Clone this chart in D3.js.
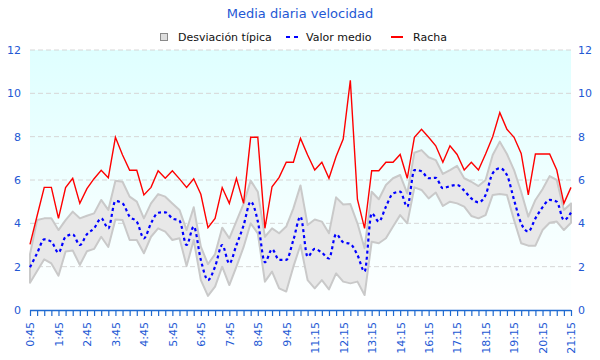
<!DOCTYPE html>
<html>
<head>
<meta charset="utf-8">
<script src="https://cdn.jsdelivr.net/npm/d3@7"></script>
<style>
  html, body { margin: 0; padding: 0; background: #ffffff; }
  svg { display: block; font-family: "DejaVu Sans", sans-serif; }
</style>
</head>
<body>
<svg id="chart" width="600" height="360"></svg>
<script>
const categories = [
  "0:45","1:00","1:15","1:30","1:45","2:00","2:15","2:30","2:45","3:00","3:15","3:30","3:45",
  "4:00","4:15","4:30","4:45","5:00","5:15","5:30","5:45","6:00","6:15","6:30","6:45",
  "7:00","7:15","7:30","7:45","8:00","8:15","8:30","8:45","9:00","9:15","9:30","9:45",
  "10:00","10:30","10:45","11:15","11:30","11:45","12:00","12:15","12:30","12:45","13:00","13:15",
  "13:30","13:45","14:00","14:15","14:30","15:00","15:30","16:15","16:30","16:45","17:00","17:15",
  "17:30","17:45","18:00","18:15","18:30","18:45","19:00","19:15","19:30","19:45","20:00","20:15",
  "20:30","20:45","21:00","21:15"
];
const racha = [
  3.03,4.35,5.66,5.66,4.23,5.65,6.08,4.92,5.6,6.06,6.45,6.1,7.97,
  7.15,6.45,6.45,5.31,5.66,6.43,6.08,6.43,6.05,5.66,6.06,5.34,
  3.8,4.23,5.65,4.92,6.08,4.92,7.97,7.97,3.77,5.69,6.12,6.82,
  6.82,7.92,7.15,6.46,6.82,6.08,7.08,7.89,10.6,5.1,3.77,6.43,
  6.43,6.82,6.82,7.18,6.08,7.97,8.34,7.97,7.58,6.82,7.58,7.18,
  6.46,6.82,6.46,7.2,8.0,9.11,8.34,7.97,7.23,5.31,7.2,7.2,
  7.2,6.46,4.92,5.66
];
const media = [
  1.97,2.62,3.26,3.15,2.65,3.38,3.49,3.0,3.5,3.77,4.23,3.77,5.03,
  4.92,4.31,4.08,3.31,4.0,4.49,4.51,4.23,4.12,3.0,3.85,2.31,
  1.38,2.0,3.0,2.15,3.0,3.9,5.0,4.1,2.2,2.8,2.31,2.31,
  3.23,4.31,2.46,2.82,2.65,2.38,3.5,3.13,3.05,2.54,1.77,4.46,
  4.08,4.77,5.38,5.46,4.77,6.46,6.4,6.08,6.1,5.62,5.72,5.77,
  5.51,5.15,4.97,5.31,6.31,6.54,6.23,5.08,4.0,3.62,4.23,4.74,
  5.08,5.0,4.15,4.49
];
const bandHigh = [
  2.57,4.15,4.23,4.23,3.69,4.15,4.54,4.23,4.35,4.46,5.08,4.62,5.97,
  5.92,5.23,5.0,4.23,4.92,5.35,5.23,4.92,4.62,3.69,4.74,2.92,
  2.12,2.58,3.8,3.31,4.1,4.9,5.97,5.46,3.38,3.77,3.54,3.85,
  4.69,5.75,3.92,4.18,4.08,3.54,5.2,4.87,4.89,4.0,2.85,5.46,
  5.11,5.77,6.08,6.23,5.38,7.26,7.38,7.05,6.92,6.28,6.46,6.65,
  6.08,5.92,5.72,6.0,7.15,7.77,7.2,6.46,5.46,4.31,5.08,5.57,
  6.18,6.0,4.62,4.92
];
const bandLow = [
  1.26,1.8,2.34,2.15,1.58,2.7,2.75,2.08,2.71,2.82,3.38,2.91,4.18,
  4.15,3.23,3.23,2.62,3.38,3.77,3.62,3.23,3.31,2.03,3.23,1.38,
  0.65,1.08,2.0,1.15,2.0,2.9,4.0,3.54,1.31,1.77,1.0,0.85,
  2.0,3.0,1.38,1.0,1.38,0.95,1.69,1.31,1.23,1.31,0.69,3.15,
  3.08,3.31,3.85,4.38,4.0,5.66,5.54,5.15,5.42,4.8,5.0,4.92,
  4.77,4.34,4.23,4.38,5.31,5.35,5.31,4.15,3.08,2.97,2.97,3.69,
  4.03,4.08,3.69,4.03
];
const yTicks = [0, 2, 4, 6, 8, 10, 12];
const titleText = "Media diaria velocidad";
const legendLabels = ["Desviación típica", "Valor medio", "Racha"];

const textBlue = "#2358d4";
const axisBlue = "#1f6ad0";

const svg = d3.select("#chart");
const mL = 30, mR = 571, mT = 50, mB = 310;

const x = d3.scalePoint().domain(categories).range([mL, mR]);
const y = d3.scaleLinear().domain([0, 12]).range([mB, mT]);

const rows = categories.map((c, i) => ({
  c, r: racha[i], m: media[i], hi: bandHigh[i], lo: bandLow[i]
}));

// background gradient
const defs = svg.append("defs");
const grad = defs.append("linearGradient").attr("id", "bg")
  .attr("x1", 0).attr("y1", 0).attr("x2", 0).attr("y2", 1);
grad.append("stop").attr("offset", "0%").attr("stop-color", "#dfffff");
grad.append("stop").attr("offset", "100%").attr("stop-color", "#ffffff");

svg.append("rect")
  .attr("x", mL).attr("y", mT)
  .attr("width", mR - mL).attr("height", mB - mT)
  .attr("fill", "url(#bg)");

// grid
svg.append("g").selectAll("line")
  .data(yTicks.filter(d => d > 0))
  .join("line")
  .attr("x1", mL).attr("x2", mR)
  .attr("y1", d => y(d)).attr("y2", d => y(d))
  .attr("stroke", "#d6d6d6")
  .attr("stroke-width", 1)
  .attr("stroke-dasharray", "5,3");

// band
const area = d3.area()
  .x(d => x(d.c))
  .y0(d => y(d.lo))
  .y1(d => y(d.hi));
svg.append("path")
  .datum(rows)
  .attr("d", area)
  .attr("fill", "#e8e8e8")
  .attr("stroke", "#c9c9c9")
  .attr("stroke-width", 2)
  .attr("stroke-linejoin", "round");

// racha
svg.append("path")
  .datum(rows)
  .attr("d", d3.line().x(d => x(d.c)).y(d => y(d.r)))
  .attr("fill", "none")
  .attr("stroke", "#ff0000")
  .attr("stroke-width", 1.4);

// media
svg.append("path")
  .datum(rows)
  .attr("d", d3.line().x(d => x(d.c)).y(d => y(d.m)).curve(d3.curveMonotoneX))
  .attr("fill", "none")
  .attr("stroke", "#0000ff")
  .attr("stroke-width", 2.2)
  .attr("stroke-dasharray", "3,3");

// axes
const yl = svg.append("g").attr("transform", `translate(${mL - 6},0)`)
  .call(d3.axisLeft(y).tickValues(yTicks).tickSize(0).tickPadding(3));
const yr = svg.append("g").attr("transform", `translate(${mR + 4},0)`)
  .call(d3.axisRight(y).tickValues(yTicks).tickSize(0).tickPadding(3));
[yl, yr].forEach(g => {
  g.select(".domain").remove();
  g.selectAll("text").attr("fill", textBlue)
    .style("font-family", "DejaVu Sans").style("font-size", "11px");
});

const xa = svg.append("g").attr("transform", `translate(0,${mB})`)
  .call(d3.axisBottom(x).tickSize(6).tickFormat((d, i) => i % 4 === 0 ? d : ""));
xa.select(".domain").attr("stroke", axisBlue).attr("stroke-width", 1.5)
  .attr("d", `M${mL},0.5H${mR}`);
xa.selectAll(".tick line").attr("stroke", axisBlue).attr("stroke-width", 1.2);
xa.selectAll("text")
  .attr("fill", textBlue)
  .style("font-family", "DejaVu Sans").style("font-size", "11px")
  .attr("transform", "rotate(-90)")
  .attr("text-anchor", "end")
  .attr("x", -12).attr("y", 0).attr("dy", "0.35em");

// title
svg.append("text")
  .attr("x", 300).attr("y", 18)
  .attr("text-anchor", "middle")
  .attr("fill", textBlue)
  .style("font-size", "13px")
  .text(titleText);

// legend
const lg = svg.append("g");
lg.append("rect").attr("x", 160.5).attr("y", 33.5).attr("width", 7).attr("height", 7)
  .attr("fill", "#dedede").attr("stroke", "#8a8a8a").attr("stroke-width", 1);
lg.append("text").attr("x", 178).attr("y", 41).style("font-size", "11px").attr("fill", "#111").text(legendLabels[0]);
lg.append("line").attr("x1", 286).attr("x2", 298).attr("y1", 37).attr("y2", 37)
  .attr("stroke", "#0000ff").attr("stroke-width", 2).attr("stroke-dasharray", "4,4");
lg.append("text").attr("x", 306).attr("y", 41).style("font-size", "11px").attr("fill", "#111").text(legendLabels[1]);
lg.append("line").attr("x1", 391).attr("x2", 403).attr("y1", 37).attr("y2", 37)
  .attr("stroke", "#ff0000").attr("stroke-width", 2);
lg.append("text").attr("x", 413).attr("y", 41).style("font-size", "11px").attr("fill", "#111").text(legendLabels[2]);
</script>
</body>
</html>
